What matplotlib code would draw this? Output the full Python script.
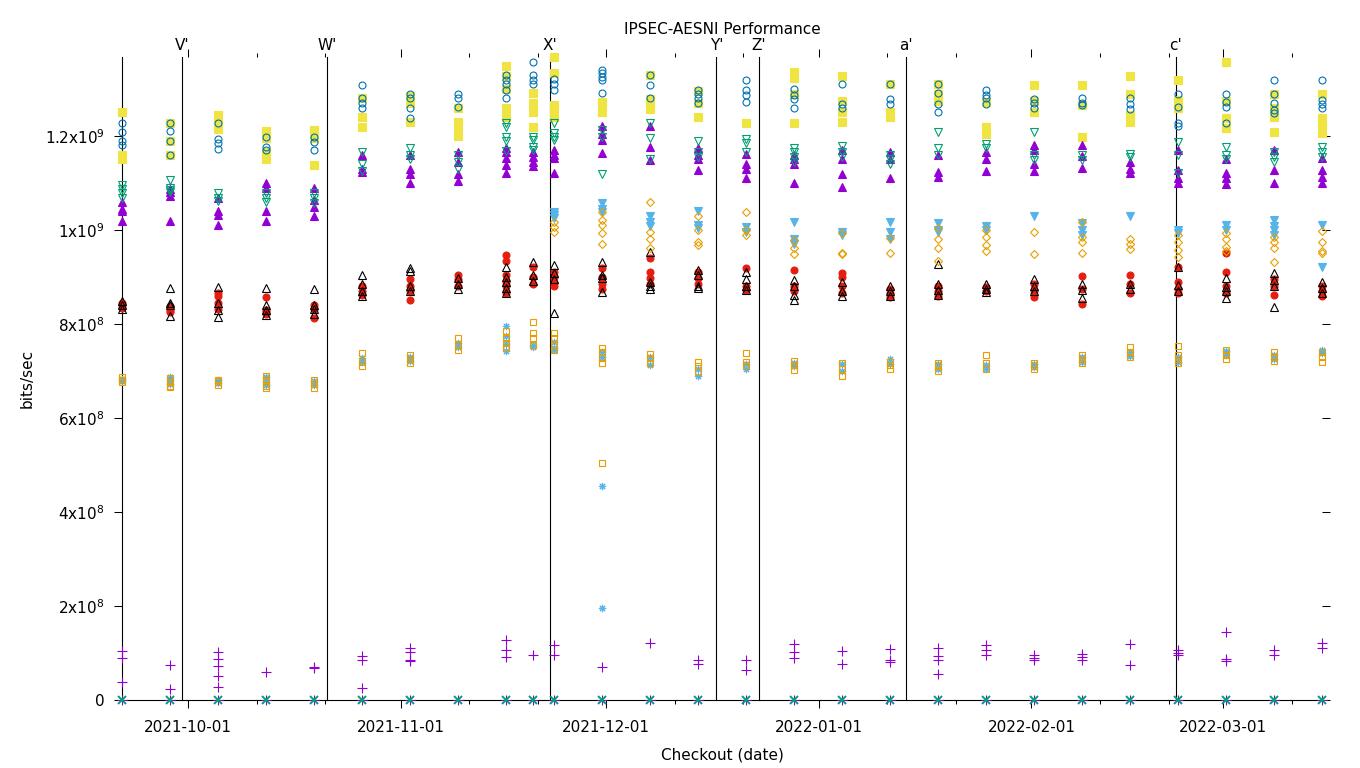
import numpy as np
import matplotlib
matplotlib.use("Agg")
import matplotlib.pyplot as plt
import matplotlib.dates as mdates
from matplotlib.ticker import FixedLocator, NullLocator
import pandas as pd

plt.rcParams.update({"font.family": ["DejaVu Sans"], "font.size": 11})

# weekly benchmark checkouts (one cluster of samples each)
CHECKOUTS = pd.to_datetime([
    "2021-09-21 09:00", "2021-09-28 09:00", "2021-10-05 09:00", "2021-10-12 09:00",
    "2021-10-19 09:00", "2021-10-26 09:00", "2021-11-02 09:00", "2021-11-09 09:00",
    "2021-11-16 09:00", "2021-11-20 07:00", "2021-11-23 09:00", "2021-11-30 09:00",
    "2021-12-07 09:00", "2021-12-14 09:00", "2021-12-21 09:00", "2021-12-28 09:00",
    "2022-01-04 09:00", "2022-01-11 09:00", "2022-01-18 09:00", "2022-01-25 09:00",
    "2022-02-01 09:00", "2022-02-08 09:00", "2022-02-15 09:00", "2022-02-22 09:00",
    "2022-03-01 09:00", "2022-03-08 09:00", "2022-03-15 09:00",
])

EVENT_LABELS = ["V'", "W'", "X'", "Y'", "Z'", "a'", "c'"]
EVENT_DATES = pd.to_datetime([
    "2021-09-30 03:00", "2021-10-21 06:30", "2021-11-22 19:00", "2021-12-17 01:30",
    "2021-12-23 06:30", "2022-01-13 17:00", "2022-02-22 02:00",
])

# samples per checkout, in 1e6 bits/sec
S01 = [[104, 89, 38, 0], [74, 23, 0], [102, 88, 72, 51, 28, 0], [60, 0], [70, 68, 0],
       [94, 85, 26, 0], [110, 102, 85, 83, 0], [0], [128, 106, 92, 0], [96, 0],
       [117, 96, 0], [70, 0], [121, 0], [85, 77, 0], [85, 64, 0], [119, 102, 89, 0],
       [104, 77, 0], [108, 85, 81, 0], [111, 94, 85, 55, 0], [117, 106, 96, 0],
       [95, 89, 85, 0], [98, 92, 85, 0], [119, 74, 0], [106, 100, 96, 0],
       [145, 88, 82, 0], [106, 96, 0], [121, 110, 0]]
S02 = [[0]] * 27
S03 = [[684, 678], [688, 680, 672], [680, 674], [688, 676, 670], [678, 670],
       [728, 720], [730, 722], [760, 750], [795, 775, 758, 742], [755, 750],
       [762, 748, 745], [740, 730, 455, 196], [730, 712], [705, 690], [715, 705],
       [718, 710], [715, 700], [725, 715], [715, 705], [712, 705], [715, 708],
       [730, 720], [740, 732], [730, 720], [742, 735], [735, 725], [745, 738]]
S04 = [[688, 680, 676], [686, 676, 668, 665], [680, 676, 670], [690, 682, 676, 668, 664],
       [680, 672, 664], [738, 720, 710], [735, 725, 718], [770, 755, 745],
       [785, 770, 760, 748], [804, 780, 770, 756], [780, 770, 755, 745],
       [749, 740, 728, 716, 504], [736, 728, 718], [720, 710, 698], [738, 720, 712],
       [722, 712, 702], [718, 705, 690], [720, 712, 705], [718, 710, 700],
       [735, 718, 705], [718, 710, 705], [735, 725, 718], [752, 740, 730],
       [753, 735, 725, 717], [745, 735, 725], [740, 730, 722], [740, 730, 720]]
S05 = [[1250, 1160, 1150], [1228, 1190, 1160], [1245, 1230, 1215], [1210, 1195, 1165, 1150],
       [1212, 1195, 1138], [1280, 1240, 1220], [1285, 1270, 1230], [1260, 1230, 1210, 1200],
       [1348, 1328, 1300, 1260, 1240], [1292, 1270, 1250, 1220],
       [1368, 1335, 1265, 1250, 1240], [1272, 1262, 1252], [1330, 1278, 1265, 1258],
       [1295, 1270, 1240], [1228], [1336, 1324, 1290, 1228], [1328, 1275, 1250, 1230],
       [1310, 1252, 1240], [1310, 1290, 1275], [1272, 1220, 1205], [1309, 1275, 1252],
       [1309, 1265, 1198], [1328, 1290, 1245, 1230], [1319, 1277, 1260],
       [1358, 1275, 1238, 1217], [1290, 1260, 1240, 1209], [1290, 1238, 1222, 1207]]
S06 = [[1228, 1209, 1190, 1180], [1228, 1210, 1190, 1160], [1228, 1194, 1185, 1172],
       [1198, 1177, 1170], [1198, 1188, 1170], [1308, 1280, 1270, 1260],
       [1290, 1280, 1260, 1238], [1290, 1280, 1262], [1330, 1320, 1310, 1298, 1280],
       [1358, 1330, 1320, 1310], [1321, 1310, 1298], [1340, 1334, 1326, 1319, 1292],
       [1330, 1309, 1280], [1298, 1290, 1280, 1270], [1319, 1298, 1287, 1272],
       [1300, 1288, 1278, 1260], [1311, 1268, 1260], [1311, 1278, 1268],
       [1311, 1292, 1268, 1250], [1298, 1288, 1280, 1268], [1278, 1270, 1260],
       [1281, 1270, 1265], [1280, 1268, 1258], [1290, 1262, 1228, 1222],
       [1290, 1273, 1262, 1228], [1319, 1290, 1270, 1256, 1248], [1319, 1277, 1268, 1260]]
S07 = [[845, 840, 835], [838, 830, 826], [866, 860, 845, 832], [858, 830, 825, 822],
       [840, 832, 813], [880, 870, 862], [895, 880, 870, 850], [905, 895, 880],
       [947, 935, 905, 890, 880, 866], [922, 900, 885], [910, 900, 888, 880],
       [920, 900, 885, 875], [940, 910, 898, 885], [910, 898, 885], [920, 880, 872],
       [915, 880, 870], [908, 900, 880, 865], [875, 865, 857], [880, 870, 860],
       [878, 870], [884, 870, 858], [902, 875, 843], [905, 885, 865],
       [921, 890, 875, 866], [951, 911, 880, 866], [895, 880, 862], [880, 870, 860]]
S08 = [[848, 840, 832], [877, 845, 840, 817], [879, 845, 830, 815], [877, 840, 830, 820],
       [875, 840, 832, 822], [905, 885, 870, 860], [920, 912, 880, 870], [898, 885, 875],
       [921, 900, 890, 877, 866], [932, 905, 892], [926, 908, 895, 824],
       [932, 905, 898, 868], [953, 890, 880, 875], [915, 905, 880, 876],
       [910, 895, 880, 872], [893, 880, 862, 851], [890, 870, 860], [880, 870, 860],
       [928, 885, 872, 862], [885, 875, 868], [895, 880, 870], [885, 872, 855],
       [885, 875], [921, 883, 870], [898, 879, 870, 855], [908, 894, 880, 836],
       [890, 876, 866]]
S09 = [[1060, 1045, 1040, 1020], [1088, 1080, 1072, 1020], [1068, 1040, 1032, 1010],
       [1100, 1090, 1040, 1020], [1090, 1064, 1048, 1030], [1160, 1130, 1123],
       [1160, 1130, 1120, 1100], [1165, 1145, 1120, 1105], [1175, 1165, 1153, 1138, 1122],
       [1166, 1155, 1145, 1136], [1170, 1160, 1153, 1121], [1221, 1205, 1192, 1164],
       [1221, 1177, 1149], [1175, 1160, 1150, 1128], [1162, 1140, 1130, 1110],
       [1160, 1150, 1140, 1100], [1170, 1150, 1120, 1092], [1166, 1150, 1110],
       [1160, 1124, 1112], [1166, 1150, 1125], [1180, 1170, 1140, 1125],
       [1181, 1158, 1132], [1145, 1130, 1122], [1170, 1128, 1110, 1100],
       [1150, 1121, 1110, 1098], [1170, 1128, 1100], [1153, 1128, 1113, 1100]]
S10 = [[1096, 1088, 1078, 1068], [1107, 1090, 1085, 1080], [1078, 1068, 1062],
       [1078, 1068, 1060], [1078, 1068, 1058], [1165, 1140, 1125], [1175, 1160, 1150],
       [1160, 1145, 1130], [1228, 1220, 1198, 1190, 1168], [1198, 1192, 1177, 1170],
       [1228, 1207, 1198, 1192], [1213, 1198, 1119], [1228, 1196, 1150],
       [1190, 1165, 1155], [1194, 1185, 1166], [1175, 1166, 1155, 1145],
       [1178, 1165, 1155], [1160, 1150, 1140], [1209, 1175, 1160], [1182, 1175],
       [1209, 1160, 1149], [1160, 1149], [1162, 1155], [1188, 1160, 1121],
       [1177, 1160, 1152], [1166, 1155, 1145], [1177, 1166, 1155]]
S11 = [[], [], [], [], [], [], [], [], [], [],
       [1038, 1032, 1025], [1058, 1045, 1038], [1030, 1018, 1008], [1040, 1010, 1004],
       [1006, 996], [1018, 980, 970], [996, 990], [1017, 996, 980], [1015, 1000, 995],
       [1008, 1000], [1030], [1015, 1000, 990], [1030], [1000, 994], [1011, 1000],
       [1021, 1008, 1000, 990], [1011, 921]]
S12 = [[], [], [], [], [], [], [], [], [], [],
       [1018, 1006, 996], [1038, 1021, 1010, 994, 970], [1060, 996, 980, 962],
       [1030, 1000, 975, 968], [1038, 1000, 990], [978, 962, 948], [994, 952, 948],
       [983, 950], [1004, 980, 962, 935], [1000, 985, 968, 955], [996, 948],
       [1018, 985, 975, 950], [980, 970, 960], [990, 975, 958, 943],
       [994, 980, 964, 956], [986, 975, 962, 932], [998, 975, 955, 950]]

Y_TICKS = [0, 2e8, 4e8, 6e8, 8e8, 1e9, 1.2e9]
Y_TICK_LABELS = ["0", "2x10$^{8}$", "4x10$^{8}$", "6x10$^{8}$", "8x10$^{8}$",
                 "1x10$^{9}$", "1.2x10$^{9}$"]

# gnuplot default point types / colours, in plot order
STYLES = [
    (S01, "+", "#9400D3", False, 6.5, 0.8),
    (S02, "x", "#009E73", False, 5.6, 1.4),
    (S03, (8, 2, 0), "#56B4E9", False, 5.2, 0.8),
    (S04, "s", "#E69F00", False, 4.8, 0.8),
    (S05, "s", "#F0E442", True, 5.2, 0.8),
    (S06, "o", "#0072B2", False, 5.0, 0.8),
    (S07, "o", "#E51E10", True, 5.0, 0.8),
    (S08, "^", "#000000", False, 5.4, 0.8),
    (S09, "^", "#9400D3", True, 5.4, 0.8),
    (S10, "v", "#009E73", False, 5.4, 0.8),
    (S11, "v", "#56B4E9", True, 5.4, 0.8),
    (S12, "D", "#E69F00", False, 3.8, 0.8),
]

W, H = 1360, 768
fig = plt.figure(figsize=(W / 100, H / 100), dpi=100)
ax = fig.add_axes([122 / W, 1 - 700 / H, 1200 / W, 643 / H])

xnum = mdates.date2num(CHECKOUTS)
for series, marker, color, filled, ms, mew in STYLES:
    xs, ys = [], []
    for xv, vals in zip(xnum, series):
        for v in vals:
            xs.append(xv)
            ys.append(v * 1e6)
    ax.plot(xs, ys, ls="none", marker=marker, ms=ms, mew=mew,
            color=color, mec=color, mfc=color if filled else "none",
            clip_on=False, zorder=3)

ymax = 1368e6
for lbl, d in zip(EVENT_LABELS, mdates.date2num(EVENT_DATES)):
    ax.plot([d, d], [0, ymax], color="black", lw=0.8, zorder=2, clip_on=False)
    ax.annotate(lbl, xy=(d, 1.0), xycoords=("data", "axes fraction"),
                xytext=(0, 5), textcoords="offset points",
                ha="center", va="baseline", fontsize=11)

ax.set_xlim(xnum[0], xnum[-1])
ax.set_ylim(0, ymax)

ax.xaxis.set_major_locator(mdates.MonthLocator(bymonthday=1))
ax.xaxis.set_minor_locator(mdates.DayLocator(bymonthday=[11, 21]))
ax.xaxis.set_major_formatter(mdates.DateFormatter("%Y-%m-%d"))
ax.yaxis.set_major_locator(FixedLocator(Y_TICKS))
ax.set_yticklabels(Y_TICK_LABELS)
ax.yaxis.set_minor_locator(NullLocator())

ax.tick_params(which="both", direction="out", top=True, right=True,
               labeltop=False, labelright=False, width=0.75, labelsize=11)
ax.tick_params(which="major", length=5.6)
ax.tick_params(which="minor", length=2.9)
ax.tick_params(axis="y", pad=7)
ax.tick_params(axis="x", pad=9)

for side in ["top", "right"]:
    ax.spines[side].set_visible(False)
for side in ["left", "bottom"]:
    ax.spines[side].set_linewidth(0.8)

ax.set_xlabel("Checkout (date)", fontsize=11, labelpad=9)
ax.set_ylabel("bits/sec", fontsize=11, labelpad=7)
fig.text(722 / W, 1 - 30 / H, "IPSEC-AESNI Performance", ha="center", va="center",
         fontsize=11)

fig.savefig("out.png", dpi=100)
